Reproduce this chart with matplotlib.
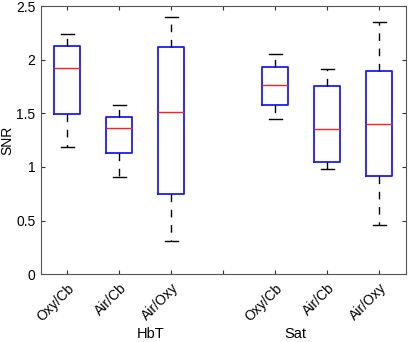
import matplotlib
matplotlib.use("Agg")
import matplotlib.pyplot as plt

plt.rcParams['font.family'] = ['Liberation Sans', 'DejaVu Sans']

labels = ["Oxy/Cb", "Air/Cb", "Air/Oxy", "Oxy/Cb", "Air/Cb", "Air/Oxy"]
positions = [1, 2, 3, 5, 6, 7]
whislo = [1.187, 0.907, 0.308, 1.448, 0.979, 0.460]
q1 = [1.497, 1.134, 0.746, 1.578, 1.047, 0.913]
med = [1.920, 1.364, 1.513, 1.765, 1.354, 1.401]
q3 = [2.130, 1.470, 2.120, 1.935, 1.755, 1.895]
whishi = [2.240, 1.580, 2.395, 2.057, 1.914, 2.352]
groups = ["HbT", "Sat"]

stats = [dict(whislo=a, q1=b, med=c, q3=d, whishi=e, fliers=[])
         for a, b, c, d, e in zip(whislo, q1, med, q3, whishi)]

fig = plt.figure(figsize=(4.08, 3.42), dpi=100)
ax = fig.add_axes([41/408, 1 - 274.3/342, (405.5-41)/408, (274.3-6)/342])

ax.bxp(stats, positions=positions, widths=0.5, showfliers=False,
       boxprops=dict(color='#1a1aff', linewidth=1.3),
       medianprops=dict(color='#ff2020', linewidth=1.0),
       whiskerprops=dict(color='black', linewidth=1.0, linestyle=(0, (5.5, 5.5))),
       capprops=dict(color='black', linewidth=1.0),
       capwidths=0.25)

ax.set_xlim(0.5, 7.5)
ax.set_ylim(0, 2.5)
ax.set_yticks([0, 0.5, 1, 1.5, 2, 2.5])
ax.set_yticklabels(["0", "0.5", "1", "1.5", "2", "2.5"])
ax.set_xticks([1, 2, 3, 4, 5, 6, 7])
ax.set_xticklabels(labels[:3] + [""] + labels[3:], rotation=45, ha='right',
                   rotation_mode='anchor')
ax.tick_params(direction='in', top=True, right=True, length=3, labelsize=10,
               color='#333333', width=0.8)
ax.tick_params(axis='y', pad=4)
ax.tick_params(axis='x', pad=5)
for s in ax.spines.values():
    s.set_color('#555555')
    s.set_linewidth(0.8)

fig.text(7/408, 1 - 140/342, "SNR", rotation=90, ha='center', va='center',
         fontsize=10)

fig.text(150.7/408, 1.5/342, groups[0], ha='center', va='bottom', fontsize=10.5)
fig.text(295/408, 1.5/342, groups[1], ha='center', va='bottom', fontsize=10.5)

fig.savefig("out.png", dpi=100)
